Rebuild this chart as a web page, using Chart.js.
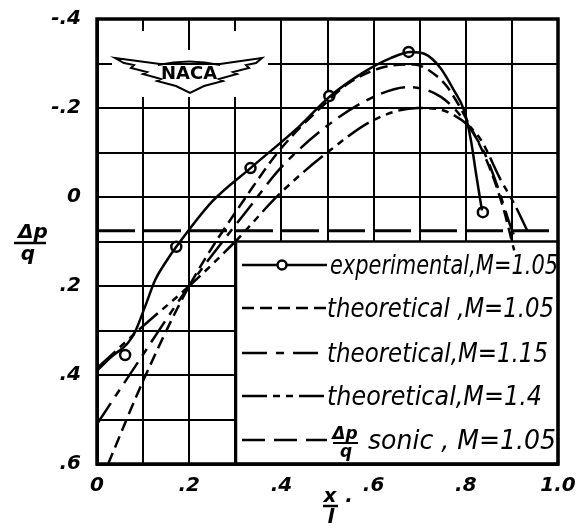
<!DOCTYPE html>
<html><head><meta charset="utf-8">
<script src="https://cdn.jsdelivr.net/npm/chart.js@4.4.1/dist/chart.umd.min.js"></script>
<style>html,body{margin:0;padding:0;background:#fff;}#wrap{width:583px;height:532px;}</style>
</head><body><div id="wrap"><canvas id="c" width="583" height="532"></canvas></div>
<script>
// ---- data ----
const xTickLabels = ['0', '.2', '.4', '.6', '.8', '1.0'];
const yTickLabels = ['-.4', '-.2', '0', '.2', '.4', '.6'];
const seriesNames = ['experimental,M=1.05', 'theoretical ,M=1.05', 'theoretical,M=1.15', 'theoretical,M=1.4', 'sonic , M=1.05'];

const expPointsX = [0.061, 0.172, 0.333, 0.504, 0.676, 0.837];
const expPointsY = [0.355, 0.112, -0.065, -0.227, -0.326, 0.034];

const expCurveX = [0, 0.03, 0.067, 0.083, 0.104, 0.126, 0.15, 0.172, 0.25, 0.333, 0.44, 0.504, 0.578, 0.637, 0.68, 0.71, 0.745, 0.774, 0.796, 0.811, 0.822, 0.835];
const expCurveY = [0.39, 0.36, 0.328, 0.302, 0.247, 0.187, 0.145, 0.112, 0.01, -0.065, -0.16, -0.225, -0.28, -0.312, -0.326, -0.322, -0.29, -0.24, -0.195, -0.128, -0.054, 0.03];

const th105X = [0.024, 0.104, 0.2, 0.333, 0.4, 0.5, 0.545, 0.615, 0.687, 0.739, 0.76, 0.804, 0.85, 0.88, 0.905];
const th105Y = [0.6, 0.404, 0.2, -0.015, -0.11, -0.215, -0.255, -0.29, -0.298, -0.27, -0.247, -0.17, -0.07, 0.02, 0.12];

const th115X = [0, 0.075, 0.2, 0.333, 0.4, 0.507, 0.6, 0.674, 0.746, 0.796, 0.84, 0.87, 0.895, 0.91];
const th115Y = [0.51, 0.393, 0.2, 0.02, -0.067, -0.166, -0.225, -0.247, -0.225, -0.173, -0.1, -0.02, 0.06, 0.1];

const th14X = [0, 0.1, 0.2, 0.3, 0.398, 0.507, 0.6, 0.696, 0.746, 0.774, 0.804, 0.833, 0.876, 0.904, 0.935];
const th14Y = [0.385, 0.29, 0.2, 0.1, -0.009, -0.106, -0.173, -0.2, -0.196, -0.184, -0.162, -0.128, -0.038, 0.013, 0.079];

const sonicX = [0, 1.0];
const sonicY = [0.076, 0.076];

// ---- styles ----
const dash105 = [12, 6];
const dash115 = [25, 8, 8, 8];
const dash14 = [25, 6, 7, 6, 7, 6];
const dashSonic = [38, 8];

function pts(xs, ys) { return xs.map((x, i) => ({x: x, y: ys[i]})); }

const lineBase = {borderColor: '#000', borderWidth: 2.5, pointRadius: 0, fill: false, cubicInterpolationMode: 'monotone'};

const datasets = [
  Object.assign({}, lineBase, {label: seriesNames[4], data: pts(sonicX, sonicY), borderDash: dashSonic, borderWidth: 3, cubicInterpolationMode: 'default', tension: 0}),
  Object.assign({}, lineBase, {label: seriesNames[3], data: pts(th14X, th14Y), borderDash: dash14}),
  Object.assign({}, lineBase, {label: seriesNames[2], data: pts(th115X, th115Y), borderDash: dash115}),
  Object.assign({}, lineBase, {label: seriesNames[1], data: pts(th105X, th105Y), borderDash: dash105}),
  Object.assign({}, lineBase, {label: seriesNames[0] + ' curve', data: pts(expCurveX, expCurveY)}),
  {label: seriesNames[0], data: pts(expPointsX, expPointsY), showLine: false, pointRadius: 5, pointBorderWidth: 2.5, pointBorderColor: '#000', pointBackgroundColor: '#fff', pointStyle: 'circle'}
];

const FONT = "'DejaVu Sans'";

const decorPlugin = {
  id: 'decor',
  beforeDatasetsDraw(chart) {
    const ctx = chart.ctx;
    const ys = chart.scales.y;
    const ca = chart.chartArea;
    ctx.save();
    // NACA logo halo
    ctx.fillStyle = '#fff';
    ctx.fillRect(112, 50, 156, 47);
    ctx.fillRect(137, 31, 47, 20);
    ctx.fillRect(195, 31, 47, 20);
    // wings
    ctx.beginPath();
    const w = [[115,58],[160,64],[220,64],[262,58],[256,63],[246,65],[249,68],[233,72],[237,74],[219,79],[223,81],[204,86],[190,93],[176,86],[157,81],[161,79],[143,74],[147,72],[131,68],[134,65],[124,63]];
    ctx.moveTo(w[0][0], w[0][1]);
    for (let i = 1; i < w.length; i++) ctx.lineTo(w[i][0], w[i][1]);
    ctx.closePath();
    ctx.fillStyle = '#fff'; ctx.fill();
    ctx.lineWidth = 2; ctx.strokeStyle = '#000'; ctx.stroke();
    ctx.beginPath(); ctx.moveTo(158, 65); ctx.quadraticCurveTo(189, 58, 220, 65); ctx.stroke();
    ctx.fillStyle = '#000';
    ctx.font = "bold 18px " + FONT;
    ctx.textAlign = 'center'; ctx.textBaseline = 'middle';
    ctx.fillText('NACA', 189, 74, 58);

    // legend box (inside plot)
    const bx = 236, by = ys.getPixelForValue(0.1), bw = ca.right - bx, bh = ca.bottom - by;
    ctx.fillStyle = '#fff';
    ctx.fillRect(bx, by, bw, bh);
    ctx.lineWidth = 2.5; ctx.strokeStyle = '#000';
    ctx.strokeRect(bx, by, bw, bh);

    const rows = [265, 308, 353, 396, 440];
    const styles = [[], [12, 6], [25, 9, 8, 9], [25, 6, 7, 6, 7, 6], [23, 9]];
    const x0 = 242, x1 = 327;
    ctx.lineWidth = 2.5;
    for (let i = 0; i < 5; i++) {
      ctx.setLineDash(styles[i]);
      ctx.beginPath(); ctx.moveTo(x0, rows[i]); ctx.lineTo(x1, rows[i]); ctx.stroke();
    }
    ctx.setLineDash([]);
    ctx.beginPath(); ctx.arc(282, rows[0], 4.5, 0, Math.PI * 2);
    ctx.fillStyle = '#fff'; ctx.fill(); ctx.stroke();

    ctx.fillStyle = '#000';
    ctx.textAlign = 'left'; ctx.textBaseline = 'alphabetic';
    ctx.font = "italic 27px " + FONT;
    ctx.fillText(seriesNames[0], 330, rows[0] + 9, 228);
    ctx.fillText(seriesNames[1], 327, rows[1] + 9, 227);
    ctx.fillText(seriesNames[2], 327, rows[2] + 9, 221);
    ctx.fillText(seriesNames[3], 327, rows[3] + 9, 215);
    // sonic: fraction then text
    ctx.font = "bold italic 17px " + FONT;
    ctx.textAlign = 'center';
    ctx.fillText('\u0394p', 345, rows[4] - 1);
    ctx.lineWidth = 2; ctx.beginPath(); ctx.moveTo(333, rows[4] + 3); ctx.lineTo(358, rows[4] + 3); ctx.stroke();
    ctx.fillText('q', 346, rows[4] + 17);
    ctx.textAlign = 'left';
    ctx.font = "italic 27px " + FONT;
    ctx.fillText(seriesNames[4], 368, rows[4] + 9, 188);
    ctx.restore();
  },
  afterDraw(chart) {
    const ctx = chart.ctx, ca = chart.chartArea;
    ctx.save();
    ctx.strokeStyle = '#000'; ctx.lineWidth = 3.5;
    ctx.strokeRect(ca.left, ca.top, ca.right - ca.left, ca.bottom - ca.top);
    ctx.fillStyle = '#000';
    ctx.font = "bold italic 20px " + FONT;
    ctx.textAlign = 'center'; ctx.textBaseline = 'alphabetic';
    // y title  Δp / q
    ctx.fillText('\u0394p', 33, 238);
    ctx.lineWidth = 2.5; ctx.beginPath(); ctx.moveTo(14, 243); ctx.lineTo(46, 243); ctx.stroke();
    ctx.fillText('q', 28, 260);
    // x title  x / l
    ctx.fillText('x', 330, 502);
    ctx.beginPath(); ctx.moveTo(323, 506); ctx.lineTo(338, 506); ctx.stroke();
    ctx.fillText('l', 331, 523);
    ctx.fillText('.', 349, 502);
    ctx.restore();
  }
};

new Chart(document.getElementById('c'), {
  type: 'line',
  data: {datasets: datasets},
  options: {
    responsive: false,
    animation: false,
    layout: {padding: {left: 0, top: 19, right: 25, bottom: 0}},
    plugins: {legend: {display: false}, tooltip: {enabled: false}},
    scales: {
      x: {
        type: 'linear', min: 0, max: 1,
        afterFit(s) { s.height = 68; s.paddingLeft = 0; s.paddingRight = 0; },
        ticks: {
          stepSize: 0.1, color: '#000', padding: 10, maxRotation: 0, autoSkip: false,
          font: {family: 'DejaVu Sans', style: 'italic', weight: 'bold', size: 20},
          callback(v) { const i = Math.round(v * 10); return i % 2 === 0 ? xTickLabels[i / 2] : ''; }
        },
        grid: {color: '#000', lineWidth: 2, drawTicks: false},
        border: {display: true, color: '#000', width: 3}
      },
      y: {
        type: 'linear', min: -0.4, max: 0.6, reverse: true,
        afterFit(s) { s.width = 97; s.paddingTop = 0; s.paddingBottom = 0; },
        ticks: {
          stepSize: 0.1, color: '#000', padding: 16, autoSkip: false,
          font: {family: 'DejaVu Sans', style: 'italic', weight: 'bold', size: 20},
          callback(v) { const i = Math.round((v + 0.4) * 10); return i % 2 === 0 ? yTickLabels[i / 2] : ''; }
        },
        grid: {color: '#000', lineWidth: 2, drawTicks: false},
        border: {display: true, color: '#000', width: 3}
      }
    }
  },
  plugins: [decorPlugin]
});
</script>
</body></html>
